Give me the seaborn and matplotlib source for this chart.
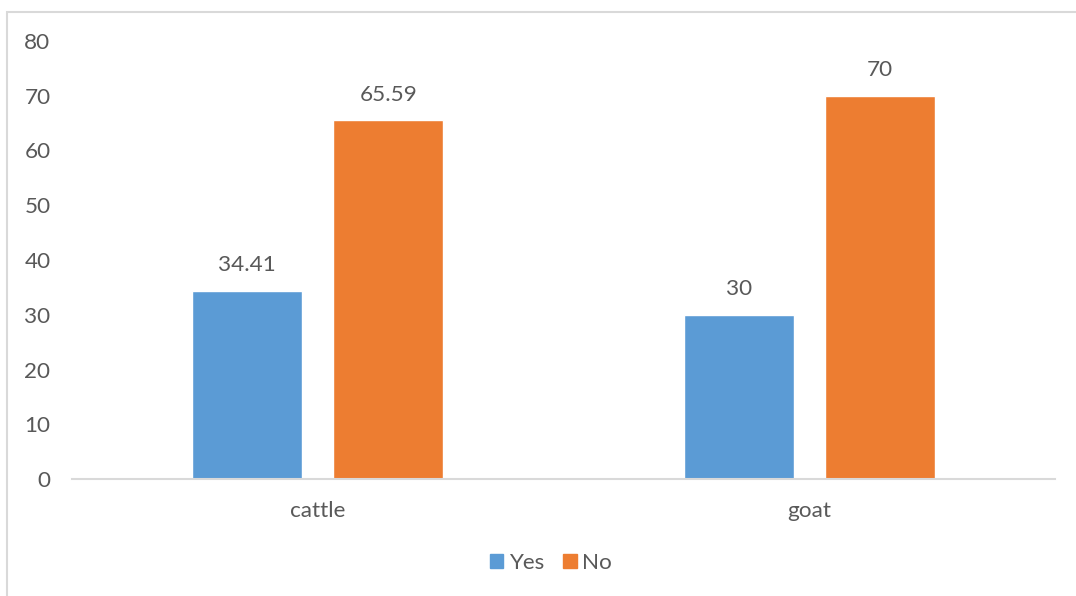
import matplotlib
matplotlib.use("Agg")
import matplotlib.pyplot as plt
import matplotlib.patches as mpatches
import seaborn as sns
import pandas as pd

categories = ["cattle", "goat"]
series_names = ["Yes", "No"]
yes_values = [34.41, 30]
no_values = [65.59, 70]
y_ticks = [0, 10, 20, 30, 40, 50, 60, 70, 80]

colors = ["#5B9BD5", "#ED7D31"]
text_color = "#595959"

df = pd.DataFrame({
    "animal": categories * 2,
    "response": [series_names[0]] * len(categories) + [series_names[1]] * len(categories),
    "value": yes_values + no_values,
})

sns.set_theme(style="white")
plt.rcParams["font.family"] = ["Lato", "DejaVu Sans"]

W, H = 1076, 596
FS = 16.2
fig = plt.figure(figsize=(W / 100, H / 100), dpi=100)
ax = fig.add_axes([72 / W, 1 - 479 / H, (1055 - 72) / W, (479 - 41) / H])

sns.barplot(data=df, x="animal", y="value", hue="response", order=categories,
            hue_order=series_names, palette=colors, width=0.574, gap=0.22,
            ax=ax, legend=False, saturation=1)

ax.set_ylim(0, 80)
ax.set_xlim(-0.5, 1.5)
ax.set_yticks(y_ticks)
ax.set_yticklabels([str(t) for t in y_ticks])
ax.set_xlabel("")
ax.set_ylabel("")
for s in ["left", "right", "top"]:
    ax.spines[s].set_visible(False)
ax.spines["bottom"].set_color("#D9D9D9")
ax.spines["bottom"].set_linewidth(1.5)
ax.tick_params(axis="y", length=0, pad=15.5, labelsize=FS, labelcolor=text_color)
ax.tick_params(axis="x", length=0, pad=16, labelsize=FS, labelcolor=text_color)

for cont in ax.containers:
    labels = [f"{v:g}" for v in cont.datavalues]
    ax.bar_label(cont, labels=labels, padding=11, fontsize=FS, color=text_color)

handles = [mpatches.Patch(color=c, label=n) for c, n in zip(colors, series_names)]
fig.legend(handles=handles, loc="center", bbox_to_anchor=(551 / W, 1 - 563 / H),
           ncol=2, frameon=False, fontsize=FS, labelcolor=text_color,
           handlelength=0.6, handleheight=0.6, handletextpad=0.25, columnspacing=0.85)

border = mpatches.Rectangle((7 / W, -0.1), 1.2, 1 - 12 / H + 0.1,
                            transform=fig.transFigure, fill=False,
                            edgecolor="#D9D9D9", linewidth=1.5)
fig.add_artist(border)

fig.savefig("out.png", dpi=100, facecolor="white")
